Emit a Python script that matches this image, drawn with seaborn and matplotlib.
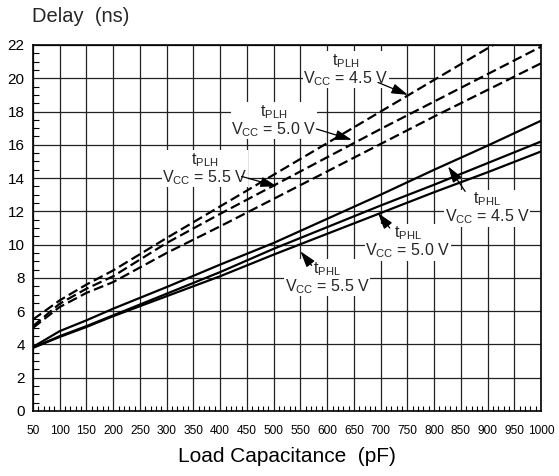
import matplotlib
matplotlib.use("Agg")
import matplotlib.pyplot as plt
import matplotlib.ticker as ticker
import numpy as np
import pandas as pd
import seaborn as sns

# load capacitance (pF)
cap = [50, 100, 150, 200, 300, 400, 500, 600, 700, 800, 900, 1000]

# tPLH (dashed)
tplh_45 = [5.5, 6.65, 7.6, 8.45, 10.4, 12.3, 14.2, 16.1, 18.0, 19.9, 21.8, 23.7]
tplh_50 = [5.1, 6.45, 7.35, 8.1, 10.1, 11.85, 13.55, 15.25, 16.95, 18.6, 20.25, 21.9]
tplh_55 = [5.0, 6.25, 7.1, 7.75, 9.5, 11.1, 12.75, 14.4, 16.05, 17.7, 19.3, 20.9]

# tPHL (solid)
tphl_45 = [3.85, 4.8, 5.45, 6.15, 7.45, 8.8, 10.1, 11.55, 13.0, 14.5, 15.95, 17.45]
tphl_50 = [3.8, 4.5, 5.1, 5.75, 7.05, 8.35, 9.75, 11.05, 12.35, 13.6, 14.9, 16.2]
tphl_55 = [3.8, 4.45, 5.05, 5.7, 6.9, 8.1, 9.4, 10.65, 11.9, 13.15, 14.35, 15.6]

x_ticks = list(range(50, 1001, 50))
y_ticks = list(range(0, 23, 2))

sns.set_theme(style="white")
plt.rcParams["font.family"] = ["Liberation Sans", "DejaVu Sans"]
plt.rcParams["mathtext.fontset"] = "custom"
plt.rcParams["mathtext.rm"] = "Liberation Sans"

fig = plt.figure(figsize=(5.59, 4.76), dpi=100)
ax = fig.add_axes([0.059, 0.1366, 0.909, 0.7689])

dash = (0, (4.5, 2.0))
for vals in (tplh_45, tplh_50, tplh_55):
    sns.lineplot(x=cap, y=vals, ax=ax, color="black", linewidth=1.6,
                 linestyle=dash, zorder=3)
for vals in (tphl_45, tphl_50, tphl_55):
    sns.lineplot(x=cap, y=vals, ax=ax, color="black", linewidth=1.6, zorder=3)

ax.set_xlim(50, 1000)
ax.set_ylim(0, 22)
ax.set_xticks(x_ticks)
ax.set_yticks(y_ticks)
ax.xaxis.set_minor_locator(ticker.MultipleLocator(10))
ax.yaxis.set_minor_locator(ticker.MultipleLocator(0.5))
ax.grid(True, which="major", color="#222222", linewidth=0.9)
ax.tick_params(axis="x", which="major", length=0, pad=10, labelsize=8.6, colors="black")
ax.tick_params(axis="y", which="major", length=0, pad=6, labelsize=11, colors="black")
ax.tick_params(axis="x", which="minor", direction="in", length=3.8, width=0.8,
               bottom=True, color="black")
ax.tick_params(axis="y", which="minor", direction="in", length=4.3, width=0.8,
               left=True, color="black")
for sp in ax.spines.values():
    sp.set_color("black")
    sp.set_linewidth(1.2)

ax.set_xlabel("Load Capacitance  (pF)", fontsize=15, color="black", labelpad=7)
ax.set_ylabel("")
fig.text(0.057, 0.966, "Delay  (ns)", fontsize=14.5, ha="left", va="center")

box = dict(facecolor="white", edgecolor="none", pad=0.5)
arrow = dict(arrowstyle="-|>,head_length=0.9,head_width=0.28", color="black",
             linewidth=0.9, shrinkA=0, shrinkB=0, mutation_scale=11)


def label(x, y, sub, vcc):
    # two-line label: t_sub over V_CC = ..., centred on (x, y)
    txt = "t$_\\mathregular{%s}$\nV$_\\mathregular{CC}$ = %s V" % (sub, vcc)
    ax.text(x, y, txt, fontsize=11.5, ha="center", va="center",
            multialignment="center", linespacing=0.95, bbox=box, zorder=5)


label(635, 20.5, "PLH", "4.5")
ax.annotate("", xy=(751, 19.0), xytext=(695, 19.75), arrowprops=arrow, zorder=6)

label(500, 17.45, "PLH", "5.0")
ax.annotate("", xy=(646, 16.3), xytext=(580, 16.95), arrowprops=arrow, zorder=6)

label(371, 14.55, "PLH", "5.5")
ax.annotate("", xy=(506, 13.5), xytext=(440, 14.1), arrowprops=arrow, zorder=6)

label(899, 12.2, "PHL", "4.5")
ax.annotate("", xy=(826, 14.7), xytext=(858, 13.2), arrowprops=arrow, zorder=6)

label(751, 10.15, "PHL", "5.0")
ax.annotate("", xy=(695, 11.9), xytext=(717, 11.0), arrowprops=arrow, zorder=6)

label(600, 8.0, "PHL", "5.5")
ax.annotate("", xy=(550, 9.6), xytext=(571, 8.75), arrowprops=arrow, zorder=6)

fig.savefig("out.png", dpi=100)
